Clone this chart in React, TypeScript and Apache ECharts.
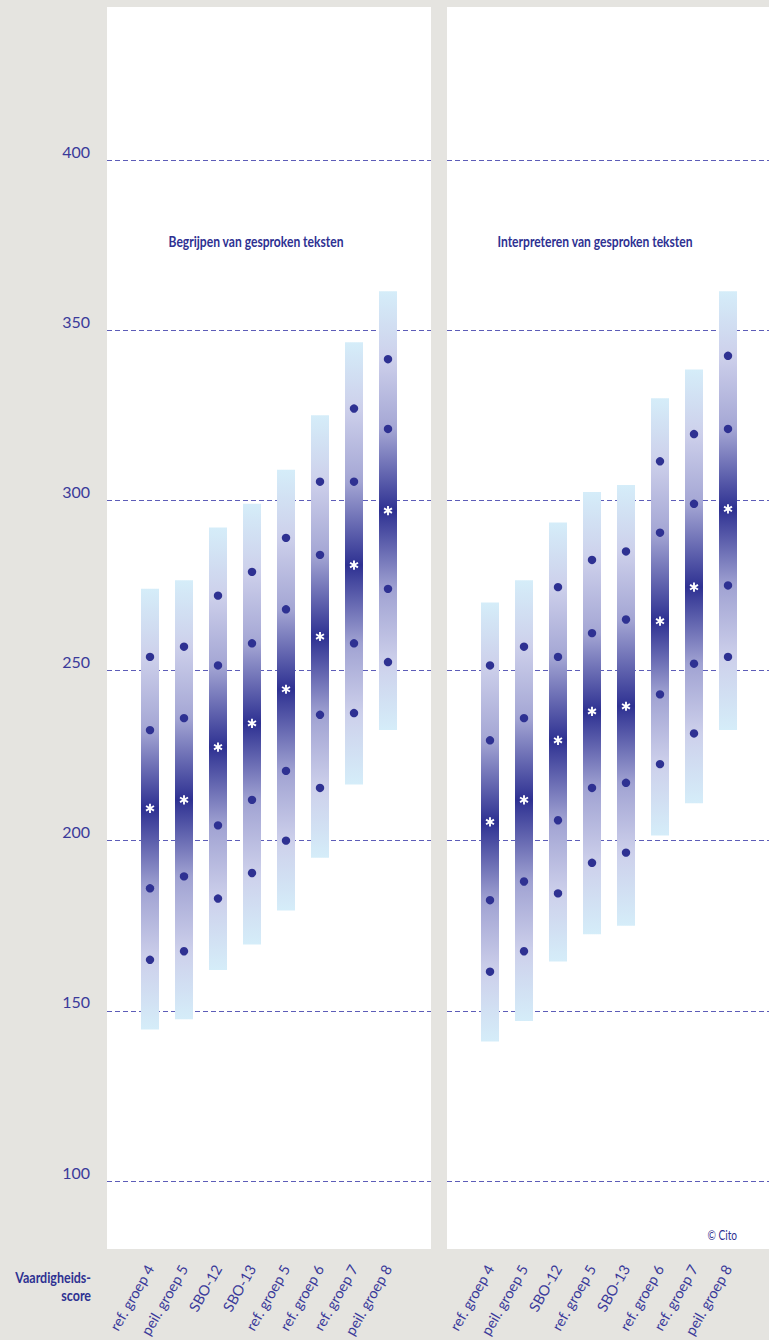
import React, { useEffect, useRef } from "react";
import * as echarts from "echarts";

const categoriesLeft = ["ref. groep 4", "peil. groep 5", "SBO-12", "SBO-13", "ref. groep 5", "ref. groep 6", "ref. groep 7", "peil. groep 8"];
const categoriesRight = ["ref. groep 4", "peil. groep 5", "SBO-12", "ref. groep 5", "SBO-13", "ref. groep 6", "ref. groep 7", "peil. groep 8"];

// Begrijpen van gesproken teksten
const leftMax = [274, 276.5, 292, 299, 309, 325, 346.5, 361.5];
const leftP90 = [254, 257, 272, 279, 289, 305.5, 327, 341.5];
const leftP75 = [232.5, 236, 251.5, 258, 268, 284, 305.5, 321];
const leftMean = [209.5, 212, 227.5, 234.5, 244.5, 260, 281, 297];
const leftP25 = [186, 189.5, 204.5, 212, 220.5, 237, 258, 274];
const leftP10 = [165, 167.5, 183, 190.5, 200, 215.5, 237.5, 252.5];
const leftMin = [144.5, 147.5, 162, 169.5, 179.5, 195, 216.5, 232.5];

// Interpreteren van gesproken teksten
const rightMax = [270, 276.5, 293.5, 302.5, 304.5, 330, 338.5, 361.5];
const rightP90 = [251.5, 257, 274.5, 282.5, 285, 311.5, 319.5, 342.5];
const rightP75 = [229.5, 236, 254, 261, 265, 290.5, 299, 321];
const rightMean = [205.5, 212, 229.5, 238, 239.5, 264.5, 274.5, 297.5];
const rightP25 = [182.5, 188, 206, 215.5, 217, 243, 252, 275];
const rightP10 = [161.5, 167.5, 184.5, 193.5, 196.5, 222.5, 231.5, 254];
const rightMin = [141, 147, 164.5, 172.5, 175, 201.5, 211, 232.5];

const yTicks = [100, 150, 200, 250, 300, 350, 400];

const TEXT = "#3a3a9a";
const DARK = "#2e3192";
const GRID_LINE = "#5d5db8";
const REG_FONT = "Lato, 'Noto Sans', sans-serif";
const BOLD_FONT = "Lato, 'Noto Sans', sans-serif";
const CONDENSE = 0.78;

function buildRows(mx: number[], p90: number[], p75: number[], mean: number[], p25: number[], p10: number[], mn: number[]) {
  return mx.map((v, i) => [i, v, p90[i], p75[i], mean[i], p25[i], p10[i], mn[i]]);
}

function renderItem(params: any, api: any) {
  const i = api.value(0);
  const vMax = api.value(1);
  const vP90 = api.value(2);
  const vP75 = api.value(3);
  const vMean = api.value(4);
  const vP25 = api.value(5);
  const vP10 = api.value(6);
  const vMin = api.value(7);
  const top = api.coord([i, vMax]);
  const bot = api.coord([i, vMin]);
  const x = top[0];
  const yTop = top[1];
  const yBot = bot[1];
  const w = 18;
  const yOf = (v: number) => api.coord([i, v])[1];
  const off = (v: number) => Math.min(1, Math.max(0, (yOf(v) - yTop) / (yBot - yTop)));
  const grad = new echarts.graphic.LinearGradient(0, 0, 0, 1, [
    { offset: 0, color: "#d5edf9" },
    { offset: off(vP90), color: "#cdd0eb" },
    { offset: off(vP75), color: "#a4a6d4" },
    { offset: off(vMean), color: DARK },
    { offset: off(vP25), color: "#a0a2d2" },
    { offset: off(vP10), color: "#cdd0eb" },
    { offset: 1, color: "#d5edf9" },
  ]);
  const children: any[] = [
    {
      type: "rect",
      shape: { x: x - w / 2, y: yTop, width: w, height: yBot - yTop },
      style: { fill: grad },
    },
  ];
  [vP90, vP75, vP25, vP10].forEach((v) => {
    children.push({
      type: "circle",
      shape: { cx: x, cy: yOf(v), r: 4.2 },
      style: { fill: DARK },
    });
  });
  const ym = yOf(vMean);
  const arm = 4.6;
  [90, 30, 150].forEach((deg) => {
    const a = (deg * Math.PI) / 180;
    children.push({
      type: "line",
      shape: {
        x1: x - arm * Math.cos(a),
        y1: ym - arm * Math.sin(a),
        x2: x + arm * Math.cos(a),
        y2: ym + arm * Math.sin(a),
      },
      style: { stroke: "#ffffff", lineWidth: 1.9 },
    });
  });
  return { type: "group", children };
}

export default function App() {
  const ref = useRef<HTMLDivElement | null>(null);
  useEffect(() => {
    if (!ref.current) return;
    const chart = echarts.init(ref.current, null, { renderer: "svg" });
    const catLabel = {
      rotate: 60,
      margin: 17,
      color: TEXT,
      fontSize: 14.5,
      fontFamily: REG_FONT,
      interval: 0,
    };
    const condensedText = (text: string, x: number, y: number, size: number, align: string, weight = "bold") => ({
      type: "text",
      x,
      y,
      scaleX: CONDENSE,
      style: {
        text,
        fill: DARK,
        font: `${weight} ${size}px ${BOLD_FONT}`,
        textAlign: align,
        textVerticalAlign: "middle",
      },
    });
    const gridBase = { outerBoundsMode: "none", containLabel: false };
    const option: any = {
      animation: false,
      backgroundColor: "#e5e4e0",
      graphic: [
        { type: "rect", z: -10, shape: { x: 107, y: 7, width: 324, height: 1242 }, style: { fill: "#ffffff" }, silent: true },
        { type: "rect", z: -10, shape: { x: 447, y: 7, width: 322, height: 1242 }, style: { fill: "#ffffff" }, silent: true },
        condensedText("Begrijpen van gesproken teksten", 256, 241, 15.5, "center"),
        condensedText("Interpreteren van gesproken teksten", 595, 241, 15.5, "center"),
        condensedText("Vaardigheids-", 91, 1277, 16, "right"),
        condensedText("score", 91, 1295, 16, "right"),
        condensedText("© Cito", 737, 1235, 13, "right", "normal"),
      ],
      grid: [
        { ...gridBase, left: 107, top: 160, width: 324, height: 1021 },
        { ...gridBase, left: 447, top: 160, width: 322, height: 1021 },
        { ...gridBase, left: 133, top: 7, width: 272, height: 1242 },
        { ...gridBase, left: 473, top: 7, width: 272, height: 1242 },
      ],
      xAxis: [
        { gridIndex: 0, type: "value", show: false, min: 0, max: 1 },
        { gridIndex: 1, type: "value", show: false, min: 0, max: 1 },
        {
          gridIndex: 2, type: "category", data: categoriesLeft,
          axisLine: { show: false }, axisTick: { show: false }, splitLine: { show: false },
          axisLabel: catLabel,
        },
        {
          gridIndex: 3, type: "category", data: categoriesRight,
          axisLine: { show: false }, axisTick: { show: false }, splitLine: { show: false },
          axisLabel: catLabel,
        },
      ],
      yAxis: [
        {
          gridIndex: 0, type: "value", min: yTicks[0], max: yTicks[yTicks.length - 1], interval: 50,
          axisLine: { show: false }, axisTick: { show: false },
          axisLabel: { margin: 17, color: TEXT, fontSize: 16, fontFamily: REG_FONT, verticalAlign: "bottom", lineHeight: 18 },
          splitLine: { show: true, lineStyle: { color: GRID_LINE, width: 1, type: [5, 3] } },
        },
        {
          gridIndex: 1, type: "value", min: yTicks[0], max: yTicks[yTicks.length - 1], interval: 50,
          axisLine: { show: false }, axisTick: { show: false }, axisLabel: { show: false },
          splitLine: { show: true, lineStyle: { color: GRID_LINE, width: 1, type: [5, 3] } },
        },
        { gridIndex: 2, type: "value", min: 80, max: 445, show: false, splitLine: { show: false } },
        { gridIndex: 3, type: "value", min: 80, max: 445, show: false, splitLine: { show: false } },
      ],
      series: [
        {
          type: "custom",
          name: "Begrijpen van gesproken teksten",
          xAxisIndex: 2,
          yAxisIndex: 2,
          renderItem,
          encode: { x: 0, y: [1, 2, 3, 4, 5, 6, 7] },
          data: buildRows(leftMax, leftP90, leftP75, leftMean, leftP25, leftP10, leftMin),
          clip: false,
        },
        {
          type: "custom",
          name: "Interpreteren van gesproken teksten",
          xAxisIndex: 3,
          yAxisIndex: 3,
          renderItem,
          encode: { x: 0, y: [1, 2, 3, 4, 5, 6, 7] },
          data: buildRows(rightMax, rightP90, rightP75, rightMean, rightP25, rightP10, rightMin),
          clip: false,
        },
      ],
    };
    chart.setOption(option);
    return () => chart.dispose();
  }, []);
  return <div ref={ref} style={{ position: "fixed", left: 0, top: 0, width: 769, height: 1340 }} />;
}
